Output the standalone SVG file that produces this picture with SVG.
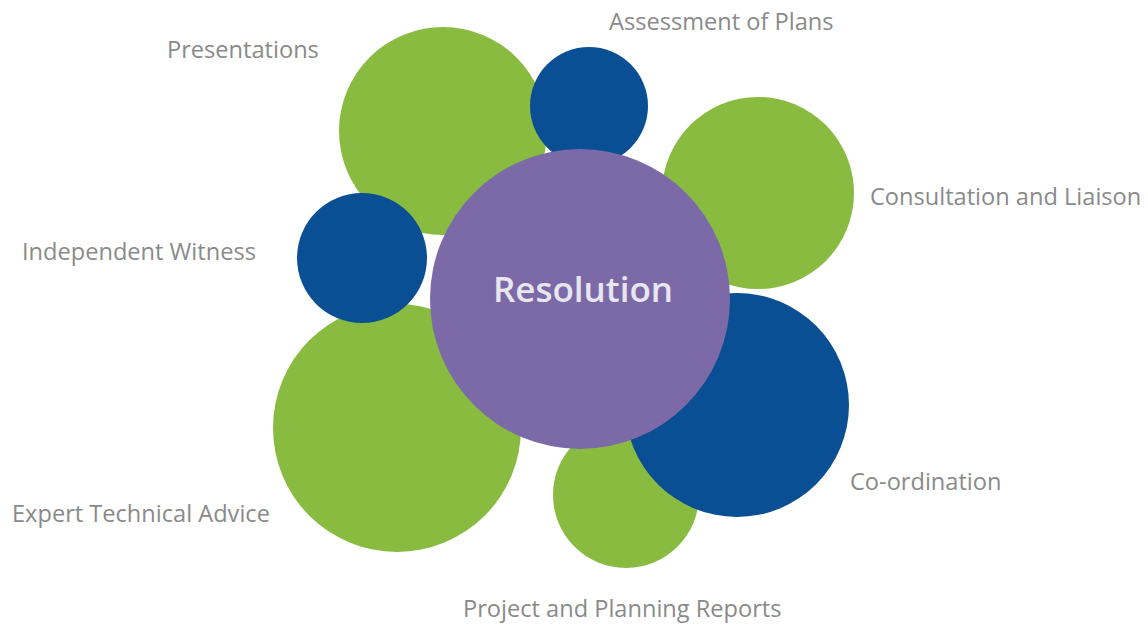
<svg xmlns="http://www.w3.org/2000/svg" width="1148" height="626" viewBox="0 0 1148 626">
<style>
.g{fill:#89bb40}
.b{fill:#0a4f93}
.p{fill:#7c6aa8}
.lbl{font-family:"Open Sans","Liberation Sans",sans-serif;font-size:23.6px;fill:#8a8a8a}
.main{font-family:"Open Sans","Liberation Sans",sans-serif;font-size:35px;font-weight:600;fill:#e8e6ef}
</style>
<rect width="1148" height="626" fill="#ffffff"/>
<g id="connectors"></g>
<g id="node-presentations"><circle class="g" cx="443" cy="131" r="104"/><text class="lbl" x="167" y="58">Presentations</text></g>
<g id="node-assessment"><circle class="b" cx="589" cy="106" r="59"/><text class="lbl" x="609" y="30">Assessment of Plans</text></g>
<g id="node-consultation"><circle class="g" cx="758" cy="193" r="96"/><text class="lbl" x="870" y="205">Consultation and Liaison</text></g>
<g id="node-expert"><circle class="g" cx="397" cy="428" r="124"/><text class="lbl" x="12" y="522">Expert Technical Advice</text></g>
<g id="node-witness"><circle class="b" cx="362" cy="258" r="65"/><text class="lbl" x="22" y="260">Independent Witness</text></g>
<g id="node-project"><circle class="g" cx="626" cy="495" r="73"/><text class="lbl" x="463" y="617">Project and Planning Reports</text></g>
<g id="node-coordination"><circle class="b" cx="737" cy="405" r="112"/><text class="lbl" x="850" y="490">Co-ordination</text></g>
<g id="node-resolution"><circle class="p" cx="580" cy="299" r="150"/><text class="main" x="583" y="302" text-anchor="middle">Resolution</text></g>
</svg>
